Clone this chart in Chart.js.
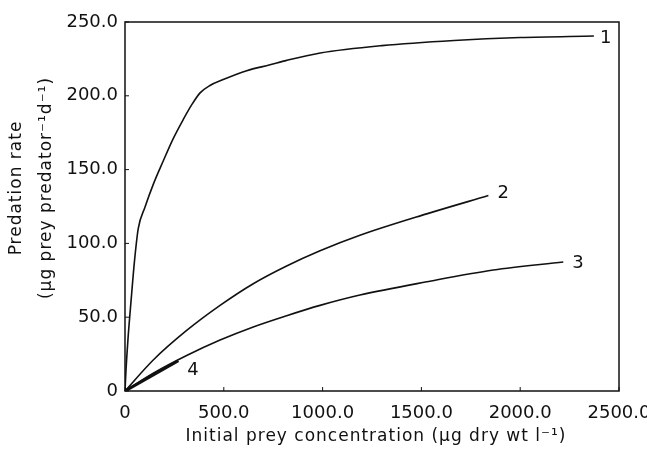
<!DOCTYPE html>
<html>
<head>
<meta charset="utf-8">
<script src="https://cdn.jsdelivr.net/npm/chart.js@4/dist/chart.umd.min.js"></script>
<style>
  html, body { margin: 0; padding: 0; background: #fff; }
  #wrap { width: 647px; height: 451px; }
</style>
</head>
<body>
<div id="wrap"><canvas id="chart" width="647" height="451"></canvas></div>
<script>
// values
var curve1_x = [0, 5, 15, 30, 48, 67, 101, 143, 194, 244, 295, 338, 380, 430, 497, 616, 734, 818, 988, 1300, 1665, 2000, 2373];
var curve1_y = [0, 14, 35, 60, 88, 110, 124.5, 140, 156, 171, 184, 194, 202, 207, 211, 217, 221, 224, 229, 234, 237.5, 239.5, 240.5];
var curve2_x = [0, 143, 312, 481, 649, 818, 987, 1189, 1527, 1839];
var curve2_y = [0, 21, 41, 58, 72.7, 84.7, 95, 105.5, 120, 132.4];
var curve3_x = [0, 143, 312, 481, 649, 818, 987, 1189, 1527, 1864, 2218];
var curve3_y = [0, 12, 24, 34.5, 43.4, 51, 58, 65, 74, 82, 87.4];
var curve4_x = [0, 270];
var curve4_y = [0, 20.5];
var curve_labels = ['1', '2', '3', '4'];

var x_ticks = [0, 500, 1000, 1500, 2000, 2500];
var y_ticks = [0, 50, 100, 150, 200, 250];

var x_title = 'Initial prey concentration (\u00b5g dry wt l\u207b\u00b9)';
var y_title = ['Predation rate', '(\u00b5g prey predator\u207b\u00b9d\u207b\u00b9)'];

var FONT = "'DejaVu Sans', sans-serif";

function pts(xs, ys) {
    var out = [];
    for (var i = 0; i < xs.length; i++) out.push({x: xs[i], y: ys[i]});
    return out;
}

function curve(label, xs, ys, width) {
    return {
        label: label,
        data: pts(xs, ys),
        borderColor: '#111',
        borderWidth: width,
        pointRadius: 0,
        fill: false,
        cubicInterpolationMode: 'monotone'
    };
}

function tick_text(v) {
    return v === 0 ? '0' : v.toFixed(1);
}

// label offsets from curve end, in px
var label_off = [[6, 2], [9, -2], [9, 1], [9, 10]];

var frame_plugin = {
    id: 'frame',
    afterDatasetsDraw: function(chart) {
        var ctx = chart.ctx, a = chart.chartArea;
        var xs = chart.scales.x, ys = chart.scales.y;
        ctx.save();
        ctx.strokeStyle = '#111';
        ctx.lineWidth = 1.5;
        ctx.strokeRect(a.left, a.top, a.right - a.left, a.bottom - a.top);
        ctx.lineWidth = 1;
        ctx.beginPath();
        x_ticks.forEach(function(v) {
            var p = xs.getPixelForValue(v);
            ctx.moveTo(p, a.bottom); ctx.lineTo(p, a.bottom - 4);
        });
        y_ticks.forEach(function(v) {
            var p = ys.getPixelForValue(v);
            ctx.moveTo(a.left, p); ctx.lineTo(a.left + 4, p);
        });
        ctx.stroke();

        // curve numbers
        ctx.fillStyle = '#111';
        ctx.font = '18px ' + FONT;
        ctx.textAlign = 'left';
        ctx.textBaseline = 'middle';
        chart.data.datasets.forEach(function(ds, i) {
            var meta = chart.getDatasetMeta(i);
            var last = meta.data[meta.data.length - 1];
            ctx.fillText(curve_labels[i], last.x + label_off[i][0], last.y + label_off[i][1]);
        });

        // axis titles
        ctx.font = '17px ' + FONT;
        ctx.letterSpacing = '1px';
        ctx.textAlign = 'center';
        ctx.textBaseline = 'middle';
        ctx.fillText(x_title, (a.left + a.right) / 2 + 4, 437);
        ctx.save();
        ctx.translate(17, 188);
        ctx.rotate(-Math.PI / 2);
        ctx.fillText(y_title[0], 0, 0);
        ctx.fillText(y_title[1], 0, 30);
        ctx.restore();
        ctx.restore();
    }
};

var ctx = document.getElementById('chart').getContext('2d');
var myChart = new Chart(ctx, {
    type: 'line',
    data: {
        datasets: [
            curve(curve_labels[0], curve1_x, curve1_y, 1.6),
            curve(curve_labels[1], curve2_x, curve2_y, 1.6),
            curve(curve_labels[2], curve3_x, curve3_y, 1.6),
            curve(curve_labels[3], curve4_x, curve4_y, 3)
        ]
    },
    options: {
        responsive: false,
        animation: false,
        layout: { padding: { top: 22, right: 28, bottom: 0, left: 0 } },
        plugins: { legend: { display: false }, tooltip: { enabled: false } },
        scales: {
            x: {
                type: 'linear', min: 0, max: 2500,
                afterBuildTicks: function(s) { s.ticks = x_ticks.map(function(v) { return {value: v}; }); },
                afterFit: function(s) { s.height = 60; s.paddingRight = 0; s.paddingLeft = 0; },
                grid: { display: false, drawTicks: false },
                border: { display: false },
                ticks: {
                    color: '#111', padding: 12, maxRotation: 0,
                    font: { family: FONT, size: 18 },
                    callback: tick_text
                }
            },
            y: {
                type: 'linear', min: 0, max: 250,
                afterBuildTicks: function(s) { s.ticks = y_ticks.map(function(v) { return {value: v}; }); },
                afterFit: function(s) { s.width = 125; },
                grid: { display: false, drawTicks: false },
                border: { display: false },
                ticks: {
                    color: '#111', padding: 7,
                    font: { family: FONT, size: 18 },
                    callback: tick_text
                }
            }
        }
    },
    plugins: [frame_plugin]
});
</script>
</body>
</html>
